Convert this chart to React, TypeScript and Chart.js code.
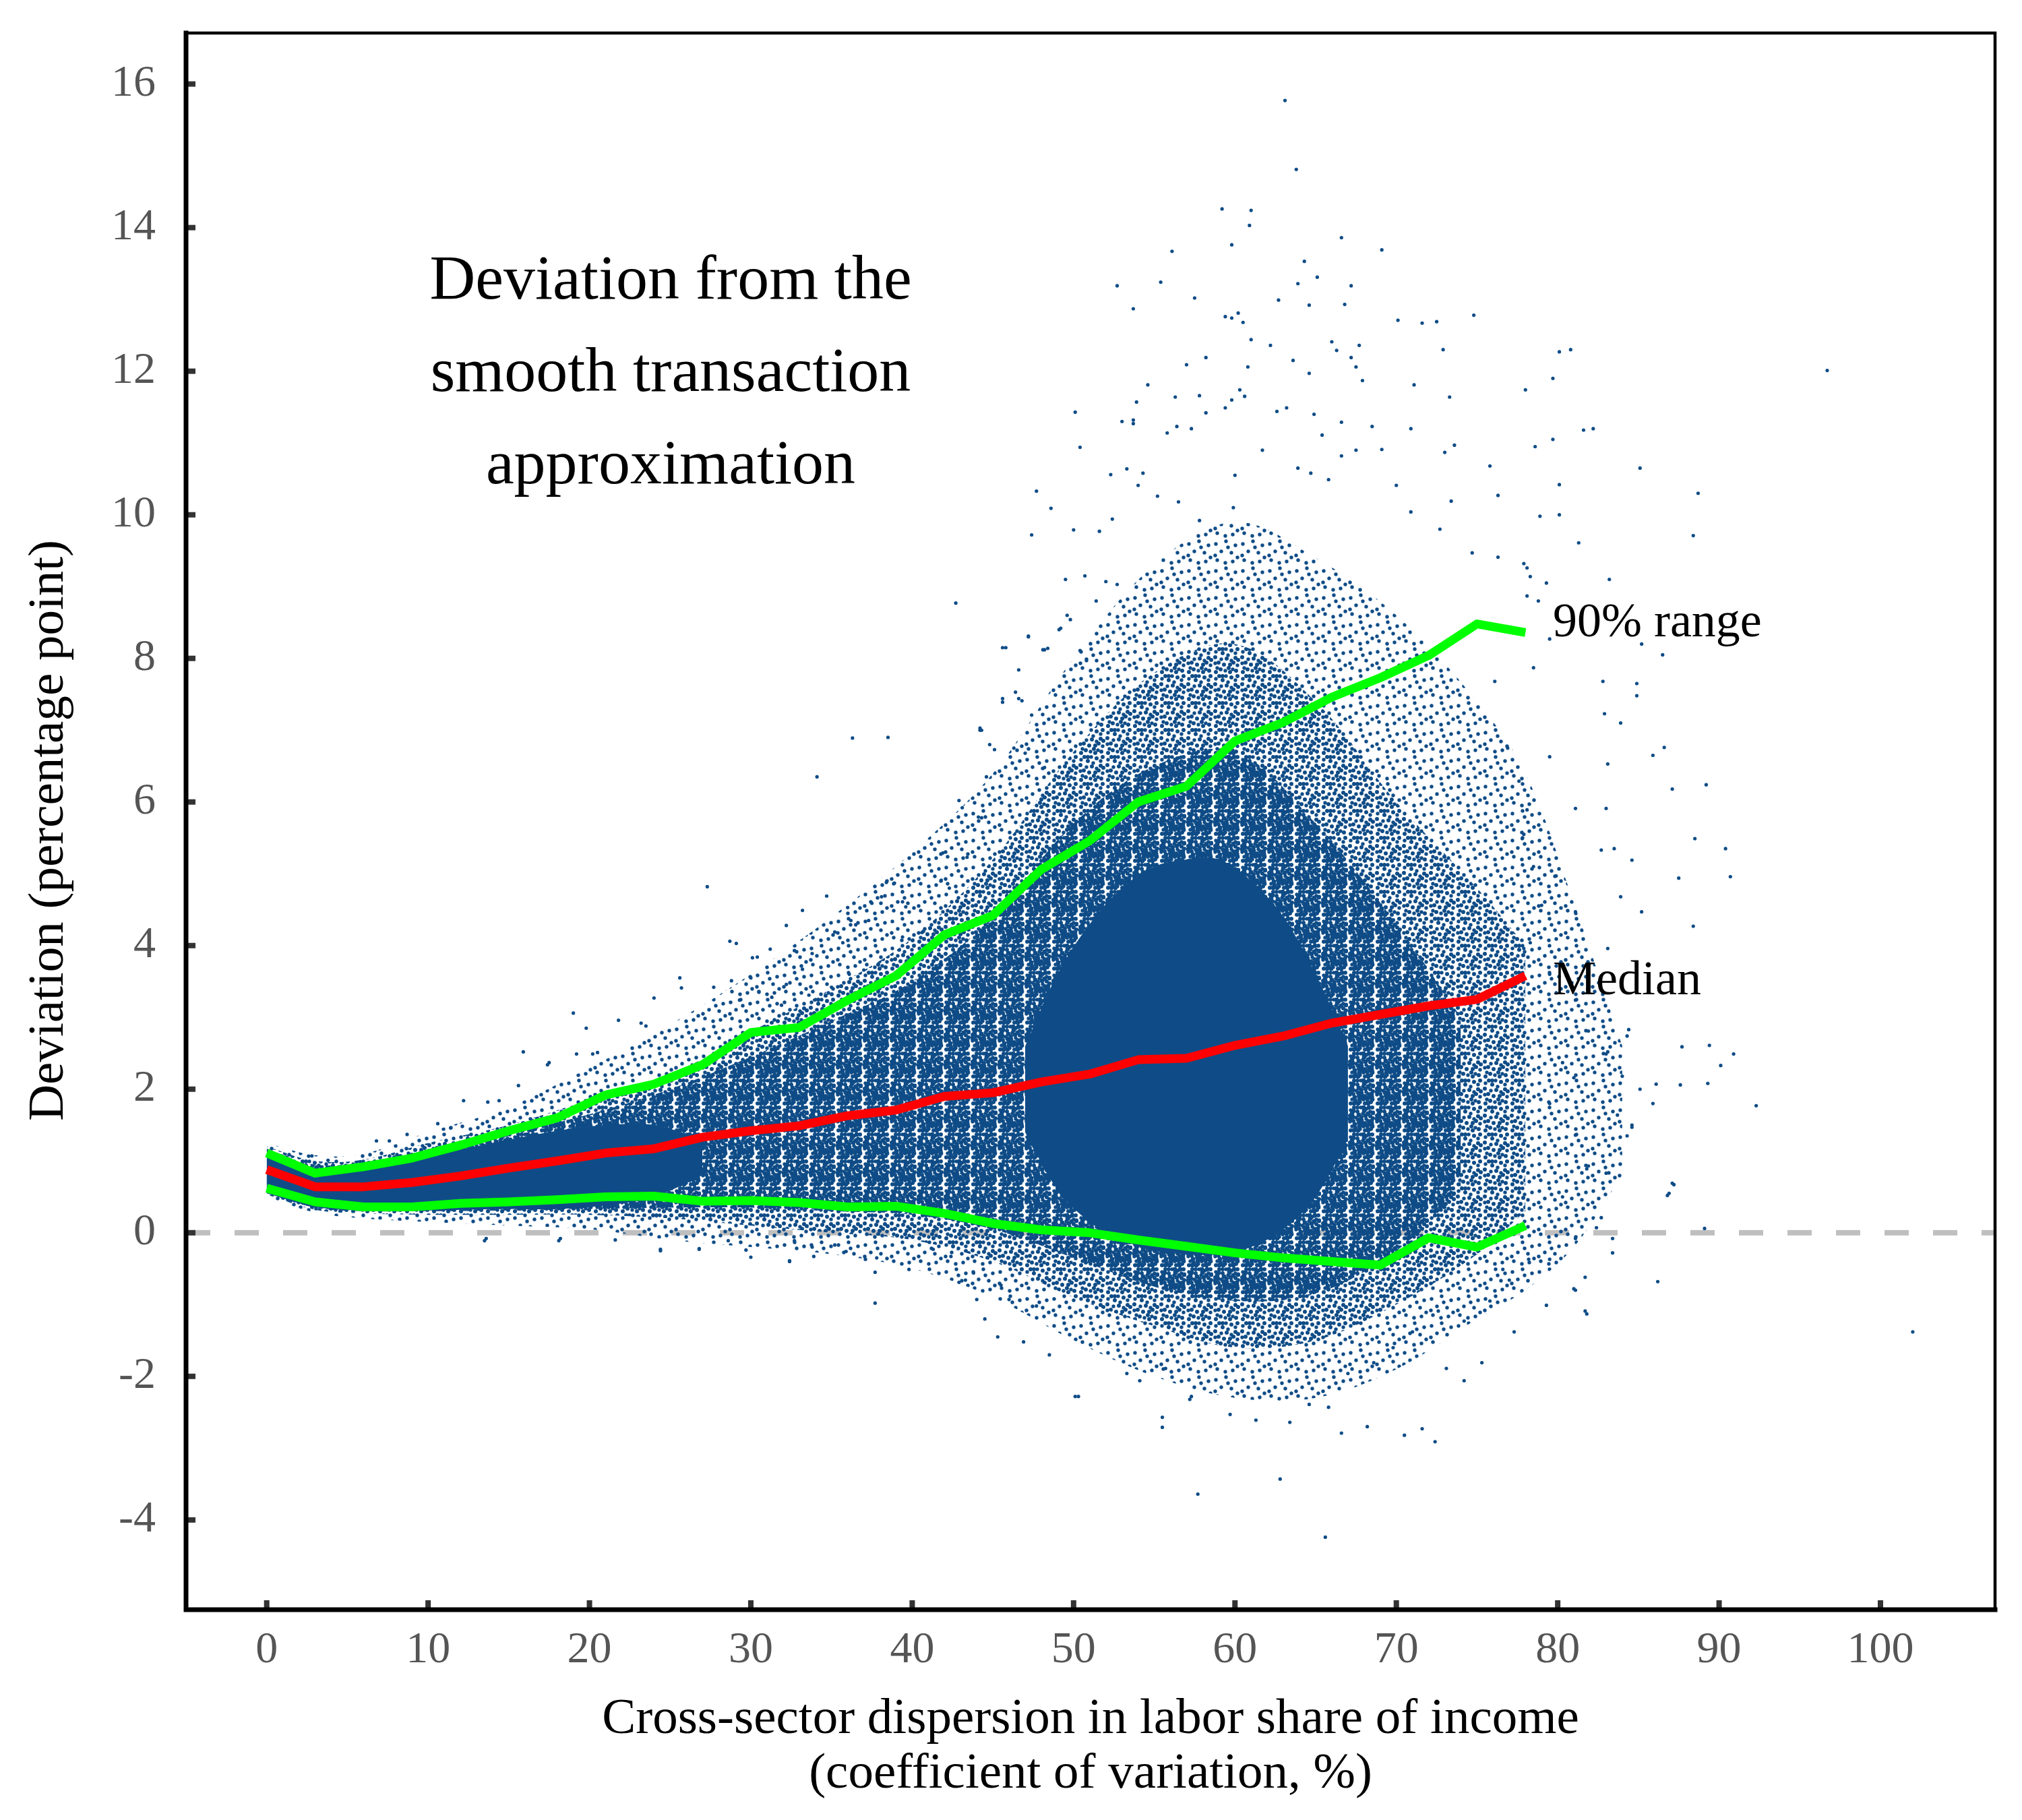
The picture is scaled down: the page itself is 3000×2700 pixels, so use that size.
import React, { useEffect, useRef } from 'react';
import { Chart, registerables } from 'chart.js';

Chart.register(...registerables);

// ---------- data ----------
const xTickValues = [0, 10, 20, 30, 40, 50, 60, 70, 80, 90, 100];
const yTickValues = [-4, -2, 0, 2, 4, 6, 8, 10, 12, 14, 16];

const binX = [0, 3, 6, 9, 12, 15, 18, 21, 24, 27, 30, 33, 36, 39, 42, 45, 48, 51, 54, 57, 60, 63, 66, 69, 72, 75, 78];
const upper90 = [1.11, 0.83, 0.92, 1.04, 1.22, 1.42, 1.6, 1.92, 2.07, 2.34, 2.79, 2.86, 3.24, 3.58, 4.15, 4.42, 5.06, 5.46, 6.0, 6.22, 6.85, 7.11, 7.46, 7.73, 8.04, 8.48, 8.36];
const median = [0.88, 0.64, 0.64, 0.7, 0.79, 0.9, 1.0, 1.11, 1.17, 1.33, 1.42, 1.49, 1.63, 1.71, 1.9, 1.95, 2.1, 2.21, 2.41, 2.43, 2.61, 2.74, 2.92, 3.04, 3.16, 3.25, 3.58];
const lower90 = [0.62, 0.43, 0.36, 0.36, 0.41, 0.43, 0.46, 0.5, 0.51, 0.44, 0.45, 0.42, 0.36, 0.37, 0.27, 0.13, 0.04, 0.0, -0.1, -0.19, -0.28, -0.35, -0.4, -0.45, -0.07, -0.2, 0.1];

// density envelopes of the point cloud (sparse -> dense -> solid)
const haloX = [0, 3, 6, 10, 15, 20, 25, 30, 35, 40, 45, 50, 55, 60, 65, 70, 75, 78, 81, 84];
const haloUpper = [1.25, 1.08, 1.1, 1.4, 1.75, 2.3, 2.9, 3.6, 4.4, 5.3, 6.4, 8.0, 9.3, 9.9, 9.4, 8.6, 7.4, 6.4, 4.6, 2.6];
const haloLower = [0.5, 0.28, 0.2, 0.15, 0.1, 0.05, -0.1, -0.2, -0.3, -0.5, -0.9, -1.5, -2.0, -2.3, -2.3, -1.9, -1.2, -0.8, -0.2, 0.8];

const midX = [0, 3, 6, 10, 15, 20, 25, 30, 35, 40, 45, 50, 55, 60, 65, 70, 75, 78];
const midUpper = [1.2, 1.0, 1.02, 1.25, 1.5, 1.85, 2.2, 2.8, 3.4, 4.1, 5.2, 6.7, 7.8, 8.2, 7.4, 6.0, 4.8, 4.0];
const midLower = [0.53, 0.32, 0.27, 0.25, 0.25, 0.25, 0.2, 0.1, 0.0, -0.1, -0.4, -0.9, -1.3, -1.6, -1.5, -1.0, -0.3, 0.3];

const denseX = [0, 3, 6, 10, 15, 20, 25, 30, 35, 40, 45, 50, 55, 60, 65, 70, 74];
const denseUpper = [1.16, 0.95, 0.98, 1.15, 1.38, 1.65, 2.0, 2.45, 2.95, 3.5, 4.4, 5.7, 6.5, 6.7, 5.7, 4.3, 3.0];
const denseLower = [0.55, 0.35, 0.3, 0.3, 0.31, 0.33, 0.35, 0.35, 0.3, 0.25, 0.05, -0.35, -0.75, -0.95, -0.85, -0.25, 0.6];

const coreLeftX = [0, 3, 6, 10, 14, 18, 21, 24, 27];
const coreLeftUpper = [1.1, 0.9, 0.95, 1.08, 1.25, 1.42, 1.5, 1.5, 1.3];
const coreLeftLower = [0.55, 0.36, 0.31, 0.31, 0.33, 0.33, 0.38, 0.5, 0.8];

const coreBlobX = [47, 49, 51, 53, 55, 57, 59, 61, 63, 65, 67];
const coreBlobUpper = [2.6, 3.6, 4.3, 4.8, 5.1, 5.2, 5.2, 4.9, 4.4, 3.6, 2.6];
const coreBlobLower = [1.4, 0.6, 0.15, -0.1, -0.25, -0.3, -0.3, -0.2, 0.05, 0.5, 1.3];

// individually visible observations
const scatterPoints: [number, number][] = [
  [63.1, 15.77], [63.8, 14.81], [59.2, 14.26], [61.0, 14.24], [60.9, 14.03], [56.1, 13.67], [59.8, 13.76], [66.6, 13.86], [69.1, 13.69], [64.3, 13.53],
  [52.7, 13.19], [55.4, 13.24], [57.5, 13.02], [63.9, 13.22], [65.1, 13.31], [67.2, 13.19], [62.7, 12.99], [64.6, 12.92], [66.8, 12.93], [53.7, 12.87],
  [59.4, 12.76], [59.8, 12.74], [60.2, 12.81], [60.5, 12.68], [70.1, 12.71], [71.6, 12.67], [72.5, 12.69], [74.8, 12.78], [61.0, 12.44], [62.2, 12.36],
  [66.0, 12.41], [66.3, 12.29], [67.7, 12.36], [72.9, 12.3], [80.1, 12.27], [80.8, 12.3], [96.7, 12.01], [58.2, 12.19], [60.8, 12.06], [63.6, 12.15],
  [64.6, 11.97], [67.2, 12.19], [67.5, 12.06], [67.9, 11.87], [57.0, 12.09], [54.6, 11.81], [56.3, 11.64], [57.8, 11.66], [59.8, 11.6], [60.6, 11.65],
  [60.3, 11.74], [62.6, 11.44], [63.2, 11.49], [64.9, 11.4], [71.1, 11.81], [73.3, 11.64], [78.0, 11.74], [79.7, 11.9], [50.1, 11.43], [53.9, 11.57],
  [53.0, 11.3], [53.7, 11.32], [53.7, 11.27], [56.4, 11.23], [57.3, 11.2], [55.8, 11.14], [58.2, 11.42], [59.4, 11.49], [66.6, 11.29], [68.5, 11.23],
  [70.9, 11.2], [65.4, 11.11], [81.6, 11.18], [82.2, 11.2], [50.4, 10.94], [78.6, 10.95], [79.7, 11.05], [85.1, 10.65], [73.6, 10.97], [73.0, 10.87],
  [75.8, 10.68], [47.7, 10.33], [48.6, 10.09], [47.4, 9.72], [50.0, 9.79], [51.6, 9.77], [52.4, 9.94], [73.4, 10.19], [76.3, 10.27], [80.1, 10.42],
  [88.7, 10.3], [78.9, 9.98], [80.1, 10.0], [88.4, 9.71], [81.3, 9.61], [83.2, 9.1], [85.2, 8.2], [86.5, 8.05], [82.8, 7.68], [84.9, 7.65],
  [84.9, 7.48], [82.9, 7.23], [83.9, 7.1], [42.7, 8.77], [44.3, 7.0], [38.5, 6.9], [36.3, 6.89], [34.1, 6.35], [31.2, 3.95],
  [92.3, 1.77], [90.9, 2.49], [90.1, 2.33], [89.4, 2.61], [87.7, 2.59], [89.3, 2.08], [87.6, 2.06], [86.1, 2.07], [87.1, 0.69], [86.9, 0.55],
  [89.1, 0.06], [86.2, -0.68], [85.1, 2.0], [84.0, 2.18], [83.0, 2.49], [84.4, 2.83], [83.7, 1.64], [84.6, 1.5], [84.3, 1.35], [81.0, 2.16],
  [81.8, 0.89], [83.0, 0.83], [83.4, -0.08], [83.4, -0.28], [82.4, 0.07], [81.7, -0.62], [81.0, -0.78], [81.7, -1.09], [79.3, -1.01], [77.3, -1.38],
  [75.3, -1.81], [74.2, -2.06], [73.1, -1.89], [72.4, -2.91], [71.6, -2.73], [70.5, -2.82], [68.2, -2.7], [66.6, -2.79], [65.6, -4.24], [62.8, -3.43],
  [57.7, -3.64], [55.5, -2.57], [55.5, -2.71], [50.3, -2.28], [54.1, -2.06], [57.2, -2.32], [102.0, -1.38],
  [85.2, 4.47], [90.4, 5.35], [90.7, 4.96], [88.4, 4.27], [85.9, 1.8], [84.6, 1.47], [87.2, 0.67], [86.8, 0.52], [81.8, -1.13], [81.1, -0.8],
  [83.1, 6.53], [85.9, 6.65], [86.6, 6.76], [87.1, 6.18], [89.2, 6.24], [88.5, 5.49], [87.5, 4.94], [84.6, 5.19], [83.5, 5.35], [83.0, 5.91],
  [27.3, 4.82], [41.8, 4.91], [38.4, 4.88], [38.9, 4.87], [34.7, 4.69], [33.2, 4.49], [32.2, 4.28], [28.7, 4.06], [29.1, 4.03], [30.1, 3.83],
  [30.4, 3.84], [25.6, 3.55], [25.7, 3.41], [24.0, 3.27], [19.0, 3.06], [19.8, 2.85], [15.9, 2.52], [21.8, 2.96], [23.2, 2.92], [23.5, 2.88],
  [19.2, 2.49], [20.2, 2.49], [20.5, 2.51], [17.5, 2.37], [17.4, 2.34], [15.6, 2.05], [12.2, 1.84], [13.7, 1.82], [14.4, 1.84], [8.7, 1.37],
  [10.6, 1.52], [11.4, 1.46], [6.8, 1.28], [7.6, 1.28], [2.8, 1.07], [3.8, 1.01],
  [13.5, -0.11], [18.1, -0.11], [21.6, -0.1], [24.4, -0.25], [26.8, -0.22], [30.0, -0.34], [32.4, -0.4], [33.9, -0.33], [35.9, -0.26], [37.1, -0.37],
  [37.8, -0.35], [37.7, -0.55], [39.8, -0.51], [28.6, -0.11], [29.7, -0.24], [32.7, -0.11], [33.8, -0.2],
  [35.2, 4.19], [35.7, 4.04], [36.0, 4.53], [36.2, 4.35], [36.5, 4.29], [37.3, 4.35], [37.5, 4.59], [38.1, 4.68], [39.4, 4.61], [39.6, 4.54],
  [39.4, 4.12], [40.7, 4.2], [41.4, 4.33], [41.9, 4.47],
  [32.7, 3.93], [33.8, 3.89], [33.2, 3.67], [32.2, 3.46], [31.3, 3.28], [30.0, 3.55], [28.8, 3.51], [27.7, 3.42], [29.3, 3.24], [30.5, 3.35],
  [31.9, 3.17], [33.6, 3.31], [35.0, 3.42], [36.1, 3.6], [37.0, 3.66],
  [45.6, 8.15], [48.1, 8.12], [48.4, 8.14], [49.6, 8.6], [50.4, 8.11], [50.8, 7.97], [47.2, 8.31], [49.1, 8.4], [44.2, 7.03], [44.8, 6.8],
  [45.1, 6.73], [45.6, 7.44], [46.6, 7.44], [46.8, 7.41], [46.3, 6.75], [47.0, 6.68], [48.2, 6.48], [42.9, 6.02], [43.1, 5.92], [44.1, 5.79],
  [44.3, 5.78], [44.6, 6.35], [41.9, 5.29], [42.3, 4.8], [43.4, 5.23], [78.1, 8.87], [78.8, 8.8], [79.5, 8.27], [78.5, 7.87], [76.1, 7.68],
  [76.9, 6.75], [77.6, 6.29], [78.1, 5.89], [77.8, 5.49], [78.5, 5.1], [79.0, 4.56], [78.3, 4.04],
  [42.4, -0.33], [42.9, -0.69], [43.8, -0.56], [45.5, -0.73], [46.0, -0.93], [44.0, -0.93], [37.7, -0.98], [45.3, -1.45], [44.5, -1.2], [43.3, -0.66],
  [24.4, -0.23], [26.8, -0.23], [32.4, -0.39], [35.2, -0.17], [41.3, -0.23], [13.6, -0.08], [18.2, -0.08],
  [47.7, -1.02], [48.5, -1.7], [50.1, -2.28], [46.9, -1.52], [53.3, -1.96], [55.7, -1.89], [57.3, -2.28], [59.7, -2.53], [61.3, -2.61], [63.4, -2.64],
  [64.6, -2.39], [65.8, -2.43], [67.0, -1.96], [68.6, -1.81], [69.8, -1.6], [71.0, -1.38], [72.6, -1.09], [74.2, -1.23], [75.8, -0.95], [77.0, -0.66],
  [78.2, -0.37], [76.6, -0.51],
  [79.5, 6.63], [81.1, 5.91], [82.7, 5.33], [83.9, 4.68], [79.9, 4.97], [77.9, 5.55], [81.1, 4.47], [83.1, 3.96], [77.9, 3.96], [79.5, 3.6],
  [81.1, 3.24], [81.9, 2.81], [80.3, 2.37], [83.1, 2.52], [84.3, 2.74], [79.5, 1.8], [81.1, 1.36], [81.9, 0.93], [80.3, 0.5], [82.7, 0.21],
  [81.1, -0.08], [79.5, -0.37],
  [52.3, 10.56], [53.3, 10.64], [54.3, 10.58], [54.0, 10.41], [55.2, 10.26], [56.5, 10.18], [57.8, 9.92], [59.9, 10.1], [60.0, 10.55], [61.7, 10.9],
  [63.9, 10.65], [64.7, 10.58], [65.8, 10.49], [66.6, 10.82], [67.5, 10.9], [69.1, 10.91], [70.0, 10.41], [70.9, 10.04], [72.7, 9.8], [77.9, 9.32],
  [74.7, 9.47], [76.3, 9.41], [78.1, 9.26], [78.3, 9.14], [79.3, 9.05], [49.5, 9.1], [50.7, 9.15], [52.0, 9.07], [52.7, 9.03], [51.4, 8.8],
  [49.2, 8.42], [49.8, 8.54], [48.2, 8.12], [47.2, 8.3], [46.6, 7.84], [45.8, 8.15], [45.6, 7.39], [46.4, 7.53], [47.4, 7.21], [44.2, 7.0],
];

const xRange = [-5, 107.1];
const yRange = [-5.25, 16.71];

const titleLines = ['Deviation from the', 'smooth transaction', 'approximation'];
const titleAnchor = { x: 25.03, y: [13.24, 11.96, 10.67] };
const seriesLabels = [
  { text: '90% range', x: 79.7, y: 8.48 },
  { text: 'Median', x: 79.7, y: 3.5 },
];
const yTitle = 'Deviation (percentage point)';
const xTitle = ['Cross-sector dispersion in labor share of income', '(coefficient of variation, %)'];

// ---------- styles ----------
const SERIF = '"Liberation Serif", "Times New Roman", "DejaVu Serif", serif';
const BLUE = '#0f4c87';
const GREEN = '#00ff00';
const RED = '#ff0000';
const LINE_W = 13;

// speckle textures (dot positions inside a 40px tile)
const TILE = 40;
const HALO_DOTS: [number, number][] = [
  [4, 7], [19, 3], [33, 9], [12, 18], [27, 20], [36, 27], [6, 31], [18, 35], [29, 33], [22, 12], [3, 24],
];
const MID_DOTS: [number, number][] = [
  [9, 3], [27, 5], [14, 9], [36, 3], [3, 15], [20, 17], [33, 16], [8, 23], [16, 26], [25, 26], [34, 35], [4, 37],
  [11, 33], [23, 31], [30, 23], [37, 19], [25, 37], [14, 3],
];
const DENSE_DOTS: [number, number][] = [
  [6, 12], [16, 14], [24, 8], [31, 3], [37, 11], [10, 28], [20, 22], [28, 29], [36, 31], [15, 37], [3, 20], [26, 15],
  [30, 12], [8, 8], [21, 27], [30, 37], [35, 23], [17, 31], [7, 17], [23, 3], [9, 37], [32, 28], [15, 21],
];

const makePattern = (ctx: CanvasRenderingContext2D, dots: [number, number][], r: number) => {
  const tile = document.createElement('canvas');
  tile.width = TILE;
  tile.height = TILE;
  const t = tile.getContext('2d') as CanvasRenderingContext2D;
  t.fillStyle = BLUE;
  dots.forEach(([dx, dy]) => {
    t.beginPath();
    t.arc(dx, dy, r, 0, Math.PI * 2);
    t.fill();
  });
  return ctx.createPattern(tile, 'repeat') as CanvasPattern;
};

const pts = (xs: number[], ys: number[]) => xs.map((x, i) => ({ x, y: ys[i] }));

const bandPair = (xs: number[], up: number[], lo: number[], color: any, order: number) => [
  {
    data: pts(xs, up),
    showLine: true,
    borderWidth: 0,
    borderColor: 'rgba(0,0,0,0)',
    pointRadius: 0,
    backgroundColor: color,
    fill: '+1',
    tension: 0.35,
    order,
  },
  {
    data: pts(xs, lo),
    showLine: true,
    borderWidth: 0,
    borderColor: 'rgba(0,0,0,0)',
    pointRadius: 0,
    fill: false,
    tension: 0.35,
    order,
  },
];

const framePlugin = {
  id: 'framePlugin',
  afterDatasetsDraw(chart: any) {
    const { ctx, chartArea } = chart;
    const { left, right, top, bottom } = chartArea;
    const xs = chart.scales.x;
    const ys = chart.scales.y;
    ctx.save();
    // tick marks (inward)
    ctx.fillStyle = '#333333';
    yTickValues.forEach((v) => {
      const py = ys.getPixelForValue(v);
      ctx.fillRect(left, py - 4, 14, 8);
    });
    xTickValues.forEach((v) => {
      const px = xs.getPixelForValue(v);
      ctx.fillRect(px - 4, bottom - 14, 8, 14);
    });
    // frame
    ctx.strokeStyle = '#000000';
    ctx.lineCap = 'square';
    ctx.lineWidth = 4.5;
    ctx.beginPath();
    ctx.moveTo(left, top);
    ctx.lineTo(right, top);
    ctx.lineTo(right, bottom);
    ctx.stroke();
    ctx.lineWidth = 7;
    ctx.beginPath();
    ctx.moveTo(left, top);
    ctx.lineTo(left, bottom);
    ctx.lineTo(right, bottom);
    ctx.stroke();
    // annotations
    ctx.fillStyle = '#000000';
    ctx.textBaseline = 'middle';
    ctx.textAlign = 'center';
    ctx.font = `94px ${SERIF}`;
    titleLines.forEach((t, i) => {
      ctx.fillText(t, xs.getPixelForValue(titleAnchor.x), ys.getPixelForValue(titleAnchor.y[i]));
    });
    ctx.textAlign = 'left';
    ctx.font = `72px ${SERIF}`;
    seriesLabels.forEach((l) => {
      ctx.fillText(l.text, xs.getPixelForValue(l.x), ys.getPixelForValue(l.y));
    });
    // y axis title
    ctx.save();
    ctx.translate(73, 1232);
    ctx.rotate(-Math.PI / 2);
    ctx.textAlign = 'center';
    ctx.font = `75px ${SERIF}`;
    ctx.fillText(yTitle, 0, 0);
    ctx.restore();
    ctx.restore();
  },
};

export default function App() {
  const ref = useRef<HTMLCanvasElement | null>(null);

  useEffect(() => {
    if (!ref.current) return;
    const c2d = ref.current.getContext('2d') as CanvasRenderingContext2D;
    const haloPat = makePattern(c2d, HALO_DOTS, 2.7);
    const midPat = makePattern(c2d, MID_DOTS, 3.0);
    const densePat = makePattern(c2d, DENSE_DOTS, 3.4);

    const datasets: any[] = [
      {
        data: pts(binX, median),
        showLine: true,
        borderColor: RED,
        borderWidth: LINE_W,
        borderJoinStyle: 'round',
        pointRadius: 0,
        fill: false,
        order: 0,
      },
      {
        data: pts(binX, upper90),
        showLine: true,
        borderColor: GREEN,
        borderWidth: LINE_W,
        borderJoinStyle: 'round',
        pointRadius: 0,
        fill: false,
        order: 1,
      },
      {
        data: pts(binX, lower90),
        showLine: true,
        borderColor: GREEN,
        borderWidth: LINE_W,
        borderJoinStyle: 'round',
        pointRadius: 0,
        fill: false,
        order: 1,
      },
      {
        data: scatterPoints.map(([x, y]) => ({ x, y })),
        showLine: false,
        pointRadius: 2.6,
        pointBorderWidth: 0,
        pointBackgroundColor: BLUE,
        pointBorderColor: BLUE,
        fill: false,
        order: 2,
      },
      ...bandPair(coreBlobX, coreBlobUpper, coreBlobLower, BLUE, 3),
      ...bandPair(coreLeftX, coreLeftUpper, coreLeftLower, BLUE, 4),
      ...bandPair(denseX, denseUpper, denseLower, densePat, 5),
      ...bandPair(midX, midUpper, midLower, midPat, 6),
      ...bandPair(haloX, haloUpper, haloLower, haloPat, 7),
      {
        data: [
          { x: xRange[0], y: 0 },
          { x: xRange[1], y: 0 },
        ],
        showLine: true,
        borderColor: '#bfbfbf',
        borderWidth: 8,
        borderDash: [36, 36],
        pointRadius: 0,
        fill: false,
        order: 10,
      },
    ];

    const chart = new Chart(ref.current, {
      type: 'line',
      data: { datasets },
      plugins: [framePlugin],
      options: {
        animation: false,
        responsive: false,
        devicePixelRatio: 1,
        events: [],
        layout: { padding: { left: 0, right: 40, top: 49, bottom: 0 } },
        plugins: {
          legend: { display: false },
          tooltip: { enabled: false },
          title: { display: false },
        },
        scales: {
          x: {
            type: 'linear',
            min: xRange[0],
            max: xRange[1],
            grid: { display: false, drawTicks: false },
            border: { display: false },
            afterBuildTicks: (axis: any) => {
              axis.ticks = xTickValues.map((v) => ({ value: v }));
            },
            afterFit: (axis: any) => {
              axis.height = 312;
              axis.paddingLeft = 0;
              axis.paddingRight = 0;
            },
            ticks: {
              color: '#555555',
              padding: 21,
              maxRotation: 0,
              autoSkip: false,
              font: { family: SERIF, size: 66 },
            },
            title: {
              display: true,
              text: xTitle,
              color: '#000000',
              font: { family: SERIF, size: 75, lineHeight: 1.08 },
              padding: { top: 0, bottom: 27.5 },
            },
          },
          y: {
            type: 'linear',
            min: yRange[0],
            max: yRange[1],
            grid: { display: false, drawTicks: false },
            border: { display: false },
            afterBuildTicks: (axis: any) => {
              axis.ticks = yTickValues.map((v) => ({ value: v }));
            },
            afterFit: (axis: any) => {
              axis.width = 276;
              axis.paddingTop = 0;
              axis.paddingBottom = 0;
            },
            ticks: {
              color: '#555555',
              padding: 45,
              autoSkip: false,
              font: { family: SERIF, size: 66 },
            },
            title: { display: false },
          },
        },
      } as any,
    });
    return () => chart.destroy();
  }, []);

  return (
    <div style={{ position: 'absolute', left: 0, top: 0, width: 3000, height: 2700, background: '#ffffff' }}>
      <canvas ref={ref} width={3000} height={2700} style={{ display: 'block', width: 3000, height: 2700 }} />
    </div>
  );
}
